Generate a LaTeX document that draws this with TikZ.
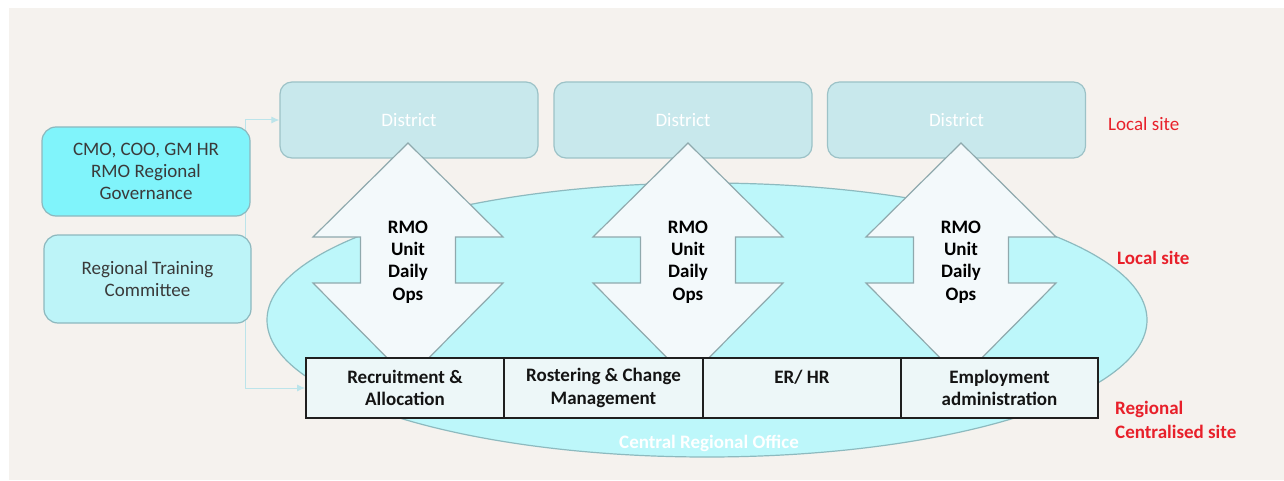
\documentclass[tikz,border=0pt]{standalone}
\usepackage{fontspec}
\setmainfont{Carlito}
\usetikzlibrary{arrows.meta,shapes.geometric}
\definecolor{bgc}{HTML}{F5F2EE}
\definecolor{govfill}{HTML}{80F4FB}
\definecolor{trainfill}{HTML}{BDF4F8}
\definecolor{boxline}{HTML}{8DB8BE}
\definecolor{distfill}{HTML}{C8E8EC}
\definecolor{distline}{HTML}{9CC2C7}
\definecolor{ellfill}{HTML}{BDF7FA}
\definecolor{ellline}{HTML}{8DBABF}
\definecolor{arrfill}{HTML}{F3F9FB}
\definecolor{arrline}{HTML}{8FA9AD}
\definecolor{cellfill}{HTML}{EDF7F8}
\definecolor{redlab}{HTML}{E8202A}
\definecolor{connc}{HTML}{BCE4EA}
\definecolor{darktext}{HTML}{3A3A3A}
\pgfdeclarelayer{bglayer}
\pgfsetlayers{bglayer,main}
\tikzset{
  basefont/.style={font=\fontsize{19}{22.3}\selectfont},
  leftbox/.style={basefont, draw=boxline, line width=1.2pt, rounded corners=14pt,
    align=center, text=darktext, inner sep=0pt},
  district/.style={basefont, draw=distline, fill=distfill, line width=1.2pt,
    rounded corners=12pt, minimum width=258pt, minimum height=76pt, text=white, inner sep=0pt},
  updown/.style={draw=arrline, fill=arrfill, line width=1.2pt, line join=miter},
  arrtext/.style={basefont, font=\fontsize{19}{22.4}\selectfont\bfseries, align=center, text=black},
  cell/.style={basefont, font=\fontsize{19}{22.3}\selectfont\bfseries, draw=black!88, fill=cellfill,
    line width=1.8pt, minimum height=60pt, align=center, inner sep=0pt, text=black!92},
  conn/.style={draw=connc, line width=1pt, -{Latex[length=8pt,width=7pt]}},
  redlabel/.style={basefont, text=redlab, anchor=west, inner sep=0pt},
}
\begin{document}
\begin{tikzpicture}[x=1pt,y=-1pt]
\useasboundingbox (0,0) rectangle (1284,481);
\begin{pgfonlayer}{bglayer}
\fill[white] (0,0) rectangle (1284,481);
\fill[bgc] (9,8) rectangle (1284,480);
\end{pgfonlayer}

% central ellipse
\node[ellipse, draw=ellline, fill=ellfill, line width=1.2pt, minimum width=880pt,
  minimum height=274pt, inner sep=0pt] (cro) at (707,320) {};
\node[basefont, font=\fontsize{19}{22}\selectfont\bfseries, text=white] (crotext) at (709,443) {Central Regional Office};

% left boxes
\node[leftbox, fill=govfill, minimum width=208pt, minimum height=89pt] (gov) at (146,171.5)
  {CMO, COO, GM HR\\RMO Regional\\Governance};
\node[leftbox, fill=trainfill, minimum width=207pt, minimum height=88pt] (train) at (147.5,279)
  {Regional Training\\Committee};

% districts
\node[district] (d1) at (409,120) {District};
\node[district] (d2) at (683,120) {District};
\node[district] (d3) at (956.5,120) {District};

% up-down arrows
\foreach \cx in {408,688,961} {
  \draw[updown] (\cx,143) -- ({\cx+95},237) -- ({\cx+47.5},237) -- ({\cx+47.5},283)
    -- ({\cx+95},283) -- (\cx,379) -- ({\cx-95},283) -- ({\cx-47.5},283)
    -- ({\cx-47.5},237) -- ({\cx-95},237) -- cycle;
}
\node[arrtext] (a1) at (408,262) {RMO\\Unit\\Daily\\Ops};
\node[arrtext] (a2) at (688,262) {RMO\\Unit\\Daily\\Ops};
\node[arrtext] (a3) at (961,262) {RMO\\Unit\\Daily\\Ops};

% bottom bar
\node[cell, minimum width=198pt] (c1) at (405,388) {Recruitment \&\\Allocation};
\node[cell, minimum width=199pt] (c2) at (603.5,388) {Rostering \& Change\\Management};
\node[cell, minimum width=198pt] (c3) at (802,388) {ER/ HR\\\mbox{}};
\node[cell, minimum width=197pt] (c4) at (999.5,388) {Employment\\administration};

% connectors (behind)
\coordinate (j1) at (245,120);
\begin{pgfonlayer}{bglayer}
\draw[conn] (j1) -- (d1.west);
\draw[conn] (j1) |- (c1.west);
\end{pgfonlayer}

% right labels
\node[redlabel] (l1) at (1108,124) {Local site};
\node[redlabel, font=\fontsize{19}{22}\selectfont\bfseries] (l2) at (1117,258) {Local site};
\node[redlabel, font=\fontsize{19}{23.5}\selectfont\bfseries, align=left] (l3) at (1115,420)
  {Regional\\Centralised site};
\end{tikzpicture}
\end{document}
